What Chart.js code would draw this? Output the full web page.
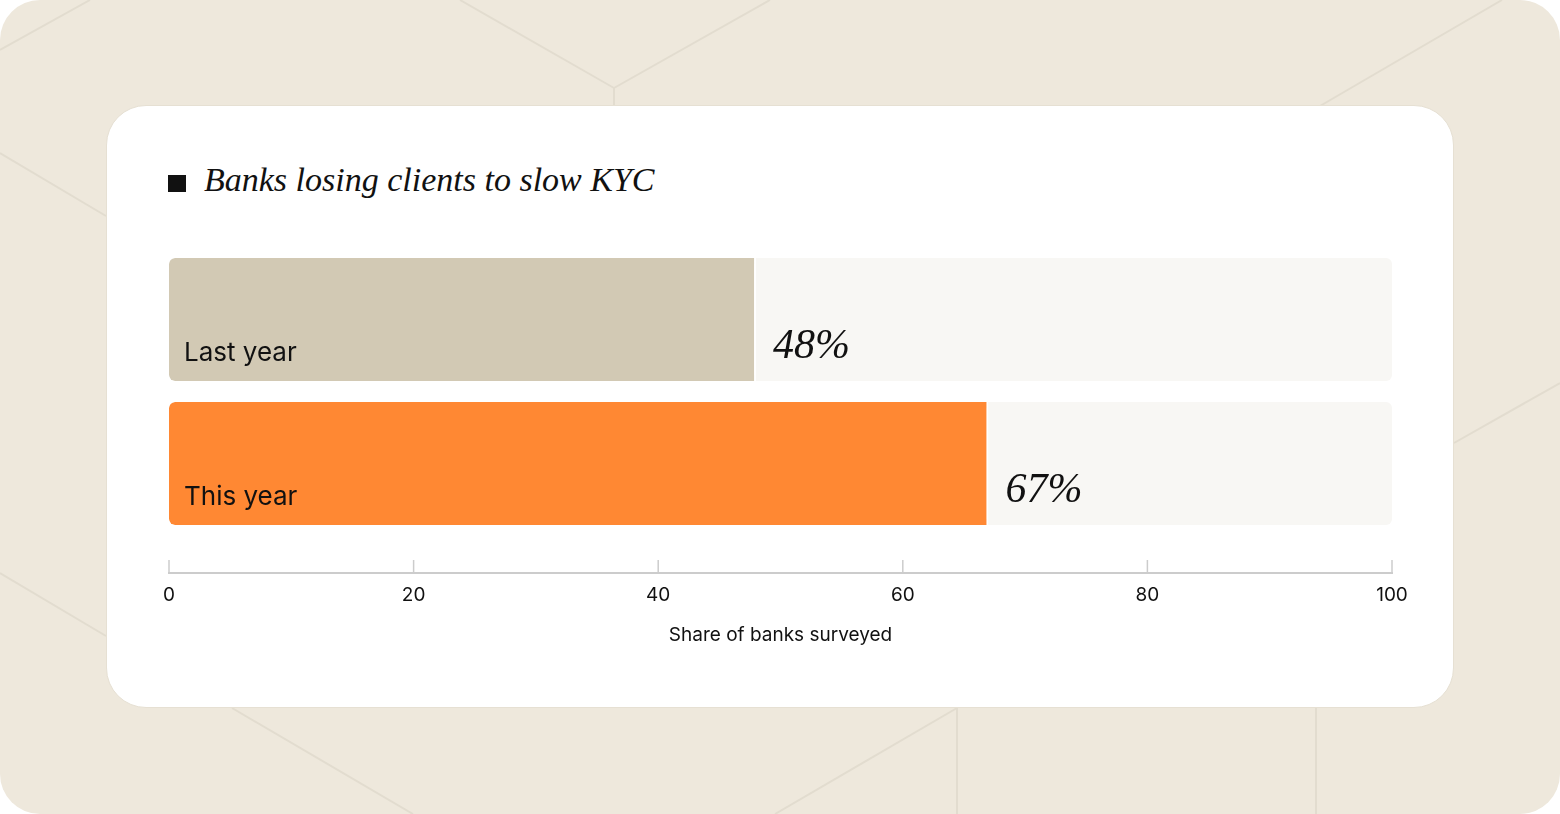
<!DOCTYPE html>
<html>
<head>
<meta charset="utf-8">
<script src="https://cdn.jsdelivr.net/npm/chart.js@4.4.1/dist/chart.umd.min.js"></script>
<style>
  html, body { margin: 0; padding: 0; background: #fff; }
  #bg { position: absolute; left: 0; top: 0; width: 1560px; height: 814px; border-radius: 40px; background: #EEE8DC; overflow: hidden; }
  #bg svg { position: absolute; left: 0; top: 0; }
  #card { position: absolute; left: 106px; top: 105px; width: 1346px; height: 601px; background: #fff; border: 1.5px solid #E6E0D3; border-radius: 40px; }
  #title { position: absolute; left: 168px; top: 161px; font: italic 34px "Liberation Serif", serif; color: #111; white-space: nowrap; }
  #title .sq { display: inline-block; width: 18px; height: 17px; background: #111; margin-right: 18px; vertical-align: -1px; }
  #chart { position: absolute; left: 0; top: 0; }
</style>
</head>
<body>
<div id="bg">
  <svg width="1560" height="814">
    <g stroke="#E2DCCF" stroke-width="2" fill="none">
      <line x1="0" y1="50" x2="90" y2="0"/>
      <line x1="460" y1="0" x2="614" y2="88"/>
      <line x1="614" y1="88" x2="770" y2="0"/>
      <line x1="614" y1="88" x2="614" y2="106"/>
      <line x1="0" y1="153" x2="106" y2="216"/>
      <line x1="0" y1="573" x2="106" y2="636"/>
      <line x1="1320" y1="106" x2="1502" y2="0"/>
      <line x1="1454" y1="443" x2="1560" y2="383"/>
      <line x1="232" y1="708" x2="413" y2="814"/>
      <line x1="957" y1="708" x2="775" y2="814"/>
      <line x1="957" y1="708" x2="957" y2="814"/>
      <line x1="1316" y1="708" x2="1316" y2="814"/>
    </g>
  </svg>
</div>
<div id="card"></div>
<div id="title"><span class="sq"></span>Banks losing clients to slow KYC</div>
<canvas id="chart" width="1560" height="814"></canvas>
<script>
// data
const categories = ['Last year', 'This year'];
const shares = [48, 67];
const fullTrack = [100, 100];
const tickValues = [0, 20, 40, 60, 80, 100];
const barColors = ['#D2C9B4', '#FF8833'];

// axis line with upward ticks + labels inside/beside the bars
const barLabels = {
  id: 'barLabels',
  afterDatasetsDraw(chart) {
    const ctx = chart.ctx;
    const xs = chart.scales.x;
    const meta = chart.getDatasetMeta(0);
    ctx.save();
    meta.data.forEach((bar, i) => {
      const bottom = bar.y + bar.height / 2;
      ctx.fillStyle = '#111';
      ctx.textBaseline = 'alphabetic';
      ctx.textAlign = 'left';
      ctx.font = '26px Inter, sans-serif';
      ctx.fillText(categories[i], bar.base + 15, bottom - 19.5);
      ctx.font = 'italic 42px "Liberation Serif", serif';
      ctx.fillText(shares[i] + '%', bar.x + 17, bottom - 23);
    });

    // axis
    const y = chart.chartArea.bottom + 37.5;
    ctx.strokeStyle = '#CCCCCC';
    ctx.lineWidth = 2;
    ctx.beginPath();
    ctx.moveTo(xs.getPixelForValue(0) - 1, y);
    ctx.lineTo(xs.getPixelForValue(100) + 1, y);
    ctx.stroke();
    ctx.lineWidth = 1.5;
    tickValues.forEach(v => {
      const px = xs.getPixelForValue(v);
      ctx.beginPath();
      ctx.moveTo(px, y);
      ctx.lineTo(px, y - 13);
      ctx.stroke();
    });
    ctx.restore();
  }
};

new Chart(document.getElementById('chart'), {
  type: 'bar',
  data: {
    labels: categories,
    datasets: [{
      data: shares,
      backgroundColor: barColors,
      borderColor: '#fff',
      borderWidth: { top: 0, right: 2, bottom: 0, left: 0 },
      borderSkipped: false,
      borderRadius: { topLeft: 6, bottomLeft: 6, topRight: 0, bottomRight: 0 },
      grouped: false,
      order: 0
    }, {
      data: fullTrack,
      backgroundColor: '#F8F7F4',
      borderWidth: 0,
      borderSkipped: false,
      borderRadius: 6,
      grouped: false,
      order: 1
    }]
  },
  options: {
    responsive: false,
    animation: false,
    indexAxis: 'y',
    categoryPercentage: 1,
    barPercentage: 0.854,
    layout: { padding: { left: 169, right: 168, top: 247.5, bottom: 167.6 } },
    plugins: { legend: { display: false }, tooltip: { enabled: false } },
    scales: {
      y: { display: false },
      x: {
        min: 0,
        max: 100,
        afterFit(scale) { scale.height = 110.9; },
        grid: { display: false, drawTicks: false },
        border: { display: false },
        ticks: {
          stepSize: 20,
          padding: 48,
          color: '#111',
          font: { family: 'Inter', size: 19 }
        },
        title: {
          display: true,
          text: 'Share of banks surveyed',
          color: '#111',
          font: { family: 'Inter', size: 19 },
          padding: { top: 17.3, bottom: 0 }
        }
      }
    }
  },
  plugins: [barLabels]
});
</script>
</body>
</html>
